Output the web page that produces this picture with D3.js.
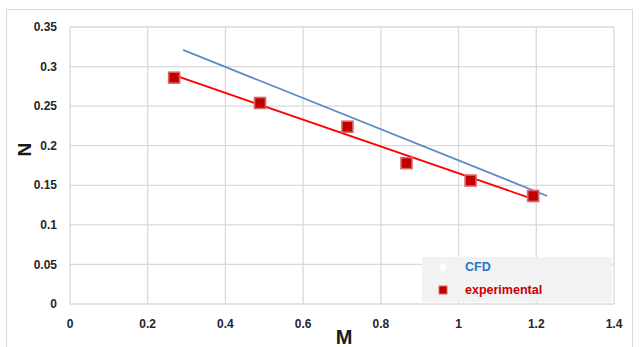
<!DOCTYPE html>
<html>
<head>
<meta charset="utf-8">
<script src="https://cdn.jsdelivr.net/npm/d3@7"></script>
<style>
  body { margin: 0; background: #fff; }
  text { font-family: "Liberation Sans", Arial, sans-serif; }
</style>
</head>
<body>
<div id="container"></div>
<script>
/** DATA */
const expM = [0.268, 0.489, 0.714, 0.866, 1.031, 1.192];
const expN = [0.286, 0.254, 0.224, 0.178, 0.156, 0.1365];
// CFD line (markers are white, so only the line shows)
const cfdM = [0.291, 1.228];
const cfdN = [0.321, 0.1365];
const xTicks = [0, 0.2, 0.4, 0.6, 0.8, 1, 1.2, 1.4];
const yTicks = [0, 0.05, 0.1, 0.15, 0.2, 0.25, 0.3, 0.35];

/** CONSTANTS */
const width = 641, height = 347,
  margin = { top: 27, bottom: 43, left: 70, right: 27 };

const svg = d3.select("#container")
  .append("svg")
  .attr("width", width)
  .attr("height", height);

// chart frame
svg.append("rect")
  .attr("x", 6.5).attr("y", 9.5)
  .attr("width", 626).attr("height", 345)
  .attr("fill", "#fff")
  .attr("stroke", "#d9d9d9");

const x = d3.scaleLinear().domain([0, 1.4]).range([margin.left, width - margin.right]);
const y = d3.scaleLinear().domain([0, 0.35]).range([height - margin.bottom, margin.top]);

// gridlines
svg.append("g")
  .selectAll("line")
  .data(xTicks)
  .join("line")
  .attr("x1", d => x(d)).attr("x2", d => x(d))
  .attr("y1", y(0)).attr("y2", y(0.35))
  .attr("stroke", "#d9d9d9").attr("stroke-width", 1.3);

svg.append("g")
  .selectAll("line")
  .data(yTicks)
  .join("line")
  .attr("x1", x(0)).attr("x2", x(1.4))
  .attr("y1", d => y(d)).attr("y2", d => y(d))
  .attr("stroke", "#d9d9d9").attr("stroke-width", 1.3);

// tick labels
svg.append("g")
  .selectAll("text")
  .data(yTicks)
  .join("text")
  .attr("x", x(0) - 13)
  .attr("y", d => y(d))
  .attr("dy", "0.35em")
  .attr("text-anchor", "end")
  .attr("font-size", 12)
  .attr("font-weight", "bold")
  .attr("fill", "#262626")
  .text(d => d3.format("")(d));

svg.append("g")
  .selectAll("text")
  .data(xTicks)
  .join("text")
  .attr("x", d => x(d))
  .attr("y", y(0) + 24)
  .attr("text-anchor", "middle")
  .attr("font-size", 12)
  .attr("font-weight", "bold")
  .attr("fill", "#262626")
  .text(d => d3.format("")(d));

// axis titles
svg.append("text")
  .attr("transform", `translate(31, ${y(0.195)}) rotate(-90)`)
  .attr("text-anchor", "middle")
  .attr("font-size", 19)
  .attr("font-weight", "bold")
  .attr("fill", "#1a1a1a")
  .text("N");

svg.append("text")
  .attr("x", 344)
  .attr("y", 344)
  .attr("text-anchor", "middle")
  .attr("font-size", 20)
  .attr("font-weight", "bold")
  .attr("fill", "#1a1a1a")
  .text("M");

// CFD line
const cfd = cfdM.map((m, i) => ({ m, n: cfdN[i] }));
const line = d3.line().x(d => x(d.m)).y(d => y(d.n));
svg.append("path")
  .datum(cfd)
  .attr("d", line)
  .attr("fill", "none")
  .attr("stroke", "#5b8ac6")
  .attr("stroke-width", 1.8);

// experimental linear trendline (least squares on the points)
const exp = expM.map((m, i) => ({ m, n: expN[i] }));
const mx = d3.mean(expM), my = d3.mean(expN);
const slope = d3.sum(exp, d => (d.m - mx) * (d.n - my)) / d3.sum(exp, d => (d.m - mx) ** 2);
const ends = d3.extent(expM).map(m => ({ m, n: my + slope * (m - mx) }));
svg.append("path")
  .datum(ends)
  .attr("d", line)
  .attr("fill", "none")
  .attr("stroke", "#ff0000")
  .attr("stroke-width", 1.8);

// experimental markers
const s = 11;
svg.append("g")
  .selectAll("rect")
  .data(exp)
  .join("rect")
  .attr("x", d => x(d.m) - s / 2)
  .attr("y", d => y(d.n) - s / 2)
  .attr("width", s).attr("height", s)
  .attr("fill", "#c00000")
  .attr("stroke", "#d9686b")
  .attr("stroke-width", 1.6);

// legend
const legend = svg.append("g").attr("transform", "translate(422, 257)");
legend.append("rect")
  .attr("width", 190).attr("height", 45)
  .attr("fill", "#f2f2f2");
legend.append("path")
  .attr("d", d3.symbol(d3.symbolDiamond2, 40)())
  .attr("transform", "translate(21, 10)")
  .attr("fill", "#fff")
  .attr("stroke", "#fff");
legend.append("rect")
  .attr("x", 17).attr("y", 29)
  .attr("width", 8).attr("height", 8)
  .attr("fill", "#c00000")
  .attr("stroke", "#d9686b");
legend.append("text")
  .attr("x", 43).attr("y", 10).attr("dy", "0.35em")
  .attr("font-size", 12.5).attr("font-weight", "bold")
  .attr("fill", "#1f78c8")
  .text("CFD");
legend.append("text")
  .attr("x", 43).attr("y", 33).attr("dy", "0.35em")
  .attr("font-size", 12.5).attr("font-weight", "bold")
  .attr("fill", "#cc0000")
  .text("experimental");
</script>
</body>
</html>
